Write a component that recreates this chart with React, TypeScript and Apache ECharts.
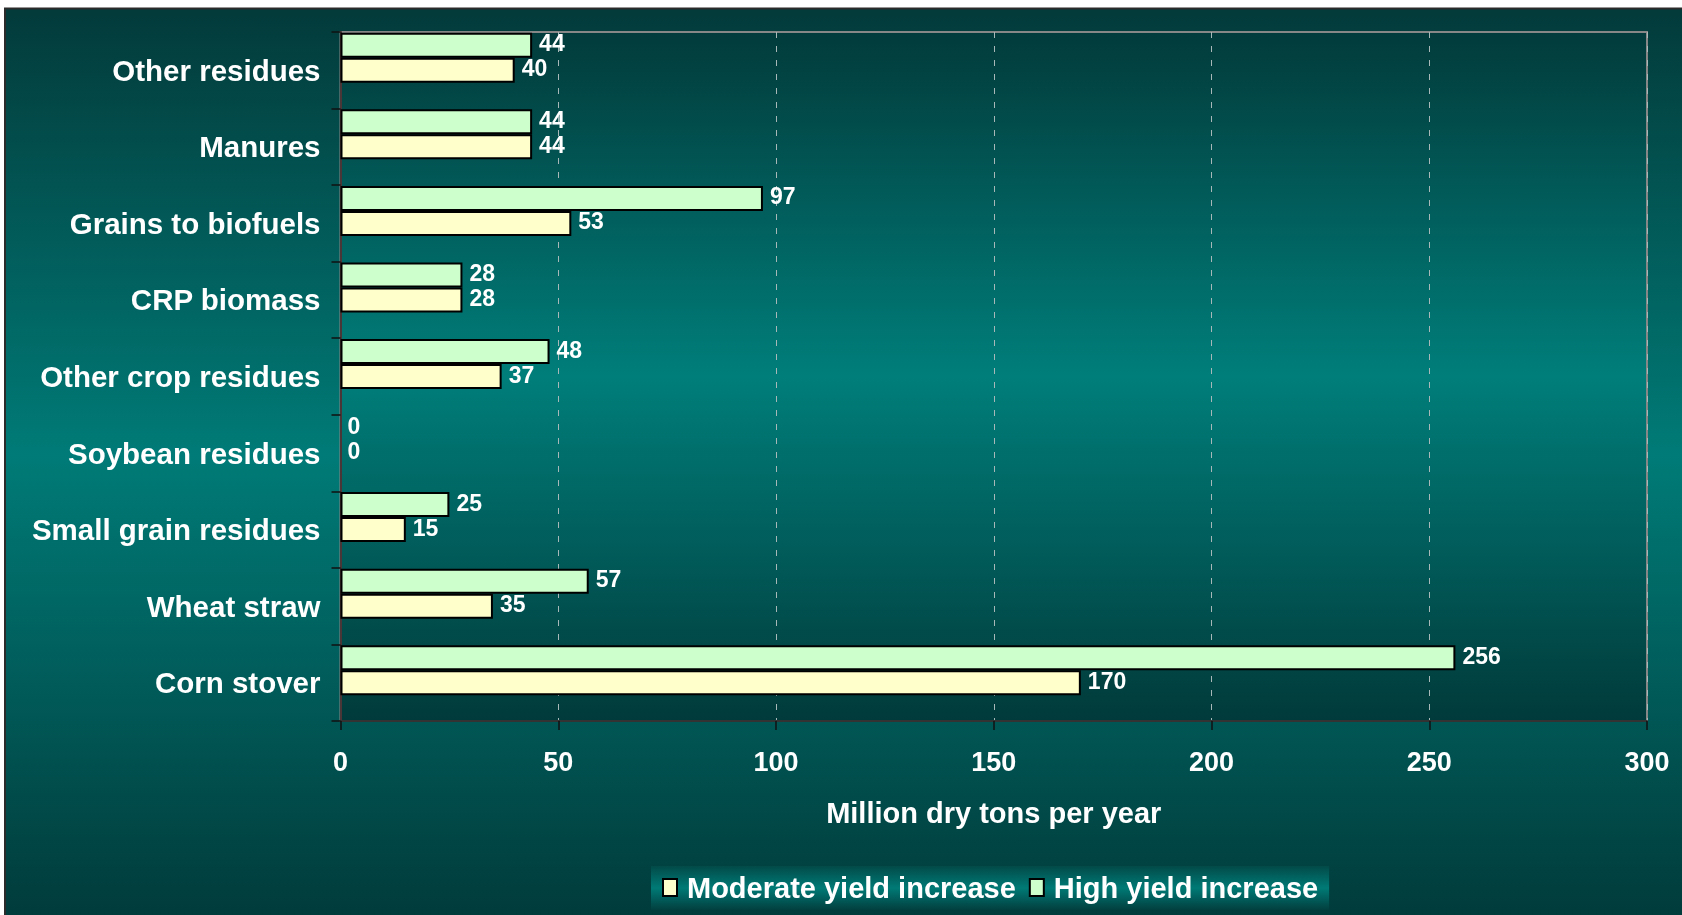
import React, { useEffect, useRef } from "react";
import * as echarts from "echarts";

const categories = [
  "Corn stover",
  "Wheat straw",
  "Small grain residues",
  "Soybean residues",
  "Other crop residues",
  "CRP biomass",
  "Grains to biofuels",
  "Manures",
  "Other residues",
];
const moderateValues = [170, 35, 15, 0, 37, 28, 53, 44, 40];
const highValues = [256, 57, 25, 0, 48, 28, 97, 44, 44];
const seriesNames = ["Moderate yield increase", "High yield increase"];
const xMin = 0;
const xMax = 300;
const xInterval = 50;
const xAxisTitle = "Million dry tons per year";

const FONT = "'Liberation Sans', Arial, sans-serif";

function grad(stops: [number, string][]) {
  return new echarts.graphic.LinearGradient(
    0,
    0,
    0,
    1,
    stops.map(([offset, color]) => ({ offset, color }))
  );
}

export default function App() {
  const ref = useRef<HTMLDivElement>(null);

  useEffect(() => {
    if (!ref.current) return;
    const chart = echarts.init(ref.current, undefined, { renderer: "svg" });

    const toData = (arr: number[]) =>
      arr.map((v) => (v === 0 ? { value: v, itemStyle: { borderWidth: 0 } } : v));

    const labelCfg = {
      show: true,
      position: "right",
      distance: 7,
      offset: [0, -2],
      color: "#ffffff",
      fontWeight: "bold",
      fontSize: 23,
      fontFamily: FONT,
    };

    chart.setOption({
      animation: false,
      textStyle: { fontFamily: FONT },
      graphic: [
        {
          type: "rect",
          z: -100,
          shape: { x: 5, y: 8.5, width: 1700, height: 930 },
          style: {
            fill: grad([
              [0, "#033a3a"],
              [0.48, "#007b77"],
              [1, "#013838"],
            ]),
            stroke: "#2b2b2b",
            lineWidth: 2,
          },
        },
      ],
      grid: {
        left: 340.5,
        top: 32,
        width: 1306.5,
        height: 689,
        show: true,
        backgroundColor: grad([
          [0, "#023b3b"],
          [0.5, "#007e7a"],
          [1, "#013a3a"],
        ]),
        borderColor: "#878787",
        borderWidth: 2,
      },
      legend: {
        data: seriesNames,
        left: 651,
        top: 866,
        orient: "horizontal",
        padding: [7, 11, 8, 11],
        itemWidth: 14,
        itemHeight: 17,
        itemGap: 13,
        icon: "rect",
        backgroundColor: grad([
          [0, "#024a48"],
          [0.5, "#007a76"],
          [1, "#023f3f"],
        ]),
        textStyle: {
          color: "#ffffff",
          fontWeight: "bold",
          fontSize: 29,
          fontFamily: FONT,
          padding: [0, 0, 0, 5],
        },
      },
      xAxis: {
        type: "value",
        min: xMin,
        max: xMax,
        interval: xInterval,
        name: xAxisTitle,
        nameLocation: "middle",
        nameGap: 77,
        nameTextStyle: {
          color: "#ffffff",
          fontWeight: "bold",
          fontSize: 29,
          fontFamily: FONT,
        },
        axisLine: { show: true, lineStyle: { color: "#333333", width: 2 } },
        axisTick: { show: true, length: 9, lineStyle: { color: "#111111", width: 1.5 } },
        axisLabel: {
          color: "#ffffff",
          fontWeight: "bold",
          fontSize: 27,
          fontFamily: FONT,
          margin: 27,
        },
        splitLine: {
          show: true,
          lineStyle: { color: "#a8b8b8", width: 1, type: [6, 8] },
        },
      },
      yAxis: {
        type: "category",
        data: categories,
        axisLine: { show: true, lineStyle: { color: "#4a3636", width: 2 } },
        axisTick: { show: true, length: 9, lineStyle: { color: "#111111", width: 1.5 } },
        axisLabel: {
          color: "#ffffff",
          fontWeight: "bold",
          fontSize: 29.5,
          fontFamily: FONT,
          margin: 20,
        },
        splitLine: { show: false },
      },
      series: [
        {
          name: seriesNames[1],
          type: "bar",
          data: toData(highValues),
          barWidth: 25,
          barGap: "0%",
          itemStyle: { color: "#ccffcc", borderColor: "#000000", borderWidth: 2 },
          label: labelCfg,
        },
        {
          name: seriesNames[0],
          type: "bar",
          data: toData(moderateValues),
          barWidth: 25,
          barGap: "0%",
          itemStyle: { color: "#ffffcc", borderColor: "#000000", borderWidth: 2 },
          label: labelCfg,
        },
        {
          name: "spacer",
          type: "bar",
          data: categories.map(() => "-"),
          barWidth: 25,
          barGap: "0%",
          silent: true,
          itemStyle: { color: "transparent" },
        },
      ],
    });

    return () => chart.dispose();
  }, []);

  return (
    <div
      ref={ref}
      style={{ position: "fixed", left: 0, top: 0, width: 1682, height: 915 }}
    />
  );
}
